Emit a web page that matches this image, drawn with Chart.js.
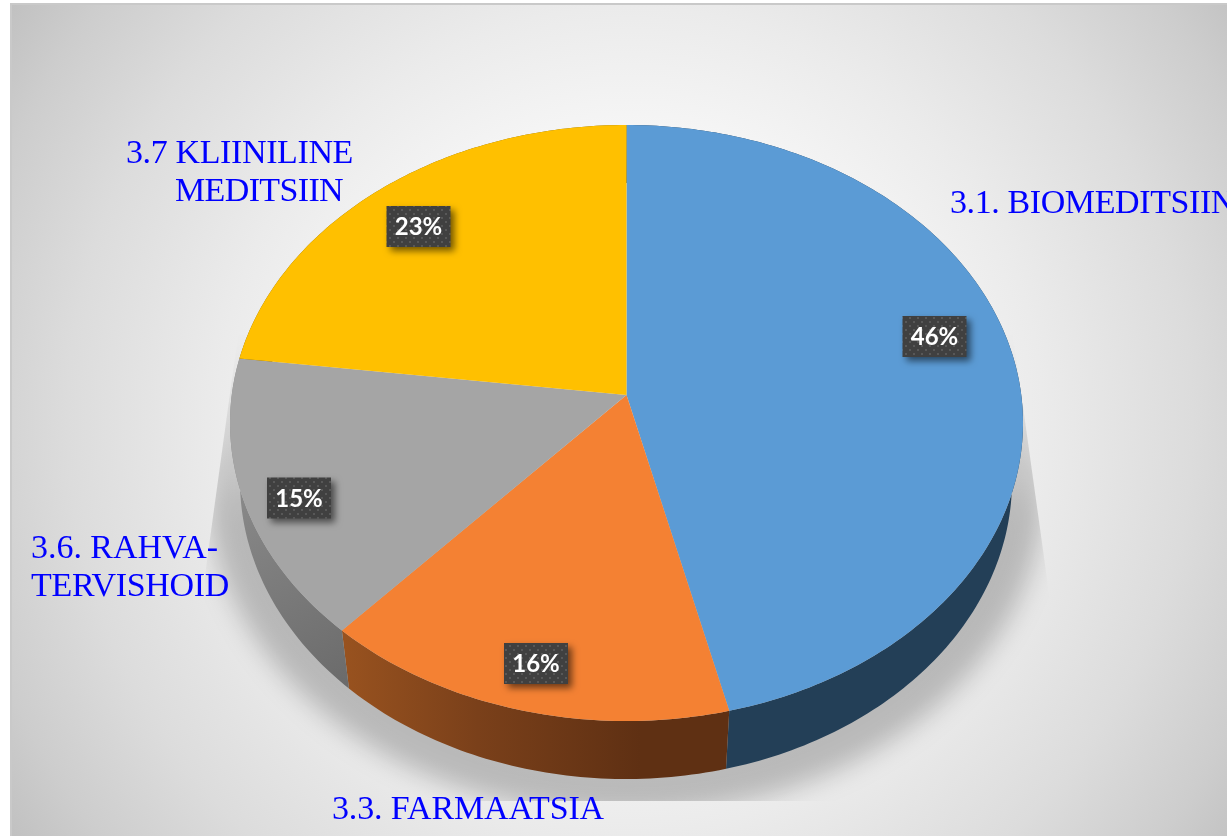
<!DOCTYPE html>
<html>
<head>
<meta charset="utf-8">
<title>Pie</title>
<script src="https://cdn.jsdelivr.net/npm/chart.js@4"></script>
<style>
    html, body { margin: 0; padding: 0; background: #ffffff; overflow: hidden; }
    canvas { display: block; }
</style>
</head>
<body>
<canvas id="graph" width="1227" height="836"></canvas>
<script>
// values, the rounded ones are what the labels show
const categories = ["3.1. BIOMEDITSIIN", "3.3. FARMAATSIA", "3.6. RAHVA-TERVISHOID", "3.7 KLIINILINE MEDITSIIN"]
const shares = [46.2, 15.5, 15.3, 23.0]
const topColors = ["#5b9bd5", "#f48133", "#a5a5a5", "#ffc000"]
const sideColors = ["#233f57", "#5f3013", "#6a6a6a", "#7f6000"]

// where the texts sit on the page
const nameLines = [
    [["3.1. BIOMEDITSIIN", 950, 213, 285]],
    [["3.3. FARMAATSIA", 332, 819, 272]],
    [["3.6. RAHVA-", 31, 558, 187], ["TERVISHOID", 31, 596, 198]],
    [["3.7 KLIINILINE", 126, 163, 227], ["MEDITSIIN", 175, 201, 168]]
]
const boxCenters = [[934.5, 336.5], [536, 663.5], [299, 498], [418.5, 226.5]]

// top ellipse, bottom ellipse and how far the tilt pushes the centre up
const top3d = { x: 626.5, y: 423, rx: 396.5, ry: 298 }
const bottom3d = { x: 626, y: 481, rx: 386, ry: 298 }
const tilt = -0.094

// angle (chart.js, 0 = right) -> position on a unit disc seen in perspective
function project(angle) {
    const x = Math.cos(angle)
    const y = Math.sin(angle)
    const w = 1 + tilt * y
    return { x: x * Math.sqrt(1 - tilt * tilt) / w, y: (y + tilt) / w }
}

function traceEdge(ctx, ell, start, end, first) {
    const steps = Math.max(2, Math.ceil(Math.abs(end - start) * 60))
    for (let i = 0; i <= steps; i++) {
        const p = project(start + (end - start) * i / steps)
        const px = ell.x + p.x * ell.rx
        const py = ell.y + p.y * ell.ry
        if (i == 0 && first) ctx.moveTo(px, py)
        else ctx.lineTo(px, py)
    }
}

function drawBackground(ctx) {
    ctx.fillStyle = "#ffffff"
    ctx.fillRect(0, 0, 1227, 836)
    const g = ctx.createRadialGradient(630, 420, 0, 630, 420, 750)
    g.addColorStop(0, "#ffffff")
    g.addColorStop(0.3, "#fbfbfb")
    g.addColorStop(0.55, "#ebebeb")
    g.addColorStop(0.75, "#dcdcdc")
    g.addColorStop(0.9, "#cdcdcd")
    g.addColorStop(1, "#c0c0c0")
    ctx.fillStyle = g
    ctx.fillRect(10, 4, 1217, 832)
    ctx.fillStyle = "#c9c9c9"
    ctx.fillRect(10, 3, 1217, 2)
    ctx.fillRect(10, 3, 2, 833)
}

function drawShadow(ctx) {
    ctx.save()
    ctx.beginPath()
    ctx.moveTo(238, 335)
    ctx.lineTo(1013, 335)
    ctx.lineTo(1050, 600)
    ctx.lineTo(1050, 801)
    ctx.lineTo(205, 801)
    ctx.lineTo(205, 575)
    ctx.closePath()
    ctx.clip()
    ctx.filter = "blur(13px)"
    // fades out towards the top where it leaves the pie
    const fade = ctx.createLinearGradient(0, 335, 0, 520)
    fade.addColorStop(0, "rgba(0,0,0,0)")
    fade.addColorStop(1, "rgba(0,0,0,0.22)")
    ctx.fillStyle = fade
    ctx.beginPath()
    ctx.ellipse(bottom3d.x, bottom3d.y + 4, bottom3d.rx + 32, bottom3d.ry + 32, 0, 0, Math.PI * 2)
    ctx.fill()
    ctx.restore()
}

function sideFill(ctx, index) {
    if (index == 1) {
        const g = ctx.createLinearGradient(345, 0, 640, 0)
        g.addColorStop(0, "#98521f")
        g.addColorStop(0.45, "#7a401a")
        g.addColorStop(1, sideColors[1])
        return g
    }
    if (index == 2) {
        const g = ctx.createLinearGradient(235, 470, 350, 690)
        g.addColorStop(0, "#8c8c8c")
        g.addColorStop(1, sideColors[2])
        return g
    }
    return sideColors[index]
}

function dotPattern(ctx) {
    const c = document.createElement("canvas")
    c.width = 8
    c.height = 8
    const p = c.getContext("2d")
    p.fillStyle = "#404040"
    p.fillRect(0, 0, 8, 8)
    p.fillStyle = "#585858"
    p.fillRect(1, 1, 2, 2)
    p.fillRect(5, 5, 2, 2)
    return ctx.createPattern(c, "repeat")
}

// the names next to the pie, squeezed or stretched to the width they have in the picture
function drawNames(ctx) {
    ctx.fillStyle = "#0000ff"
    ctx.font = "34px 'Liberation Serif'"
    ctx.textAlign = "left"
    ctx.textBaseline = "alphabetic"
    nameLines.forEach(lines => {
        lines.forEach(line => {
            ctx.letterSpacing = "0px"
            const extra = (line[3] - ctx.measureText(line[0]).width) / line[0].length
            ctx.letterSpacing = extra + "px"
            ctx.fillText(line[0], line[1], line[2])
        })
    })
    ctx.letterSpacing = "0px"
}

function drawBoxes(ctx) {
    const dots = dotPattern(ctx)
    shares.forEach((share, i) => {
        const cx = boxCenters[i][0]
        const cy = boxCenters[i][1]
        ctx.save()
        ctx.shadowColor = "rgba(0,0,0,0.55)"
        ctx.shadowBlur = 7
        ctx.shadowOffsetX = 4
        ctx.shadowOffsetY = 4
        ctx.fillStyle = dots
        ctx.fillRect(cx - 32, cy - 20.5, 64, 41)
        ctx.restore()
        ctx.fillStyle = "#ffffff"
        ctx.font = "bold 24px Lato"
        ctx.textAlign = "center"
        ctx.textBaseline = "middle"
        ctx.fillText(Math.round(share) + "%", cx, cy + 1)
    })
}

const pie3d = {
    id: "pie3d",
    beforeDraw(chart) {
        drawBackground(chart.ctx)
        drawShadow(chart.ctx)
    },
    beforeDatasetsDraw(chart) {
        const ctx = chart.ctx
        const arcs = chart.getDatasetMeta(0).data
        arcs.forEach((arc, i) => {
            ctx.beginPath()
            traceEdge(ctx, top3d, arc.startAngle, arc.endAngle, true)
            traceEdge(ctx, bottom3d, arc.endAngle, arc.startAngle, false)
            ctx.closePath()
            ctx.fillStyle = sideFill(ctx, i)
            ctx.fill()
        })
        const apex = { x: top3d.x, y: top3d.y + tilt * top3d.ry }
        arcs.forEach((arc, i) => {
            ctx.beginPath()
            ctx.moveTo(apex.x, apex.y)
            traceEdge(ctx, top3d, arc.startAngle, arc.endAngle, false)
            ctx.closePath()
            ctx.fillStyle = arc.options.backgroundColor
            ctx.fill()
        })
        return false
    },
    afterDraw(chart) {
        drawNames(chart.ctx)
        drawBoxes(chart.ctx)
    }
}

var graph = new Chart(document.getElementById("graph"), {
    type: "pie",
    data: {
        labels: categories,
        datasets: [{ data: shares, backgroundColor: topColors, borderWidth: 0 }]
    },
    options: {
        responsive: false,
        animation: false,
        plugins: { legend: { display: false }, tooltip: { enabled: false } }
    },
    plugins: [pie3d]
})
</script>
</body>
</html>
